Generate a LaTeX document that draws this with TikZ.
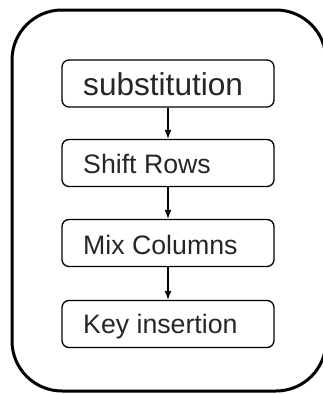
\documentclass[tikz,border=0pt]{standalone}
\usepackage{fontspec}
\setmainfont{Liberation Sans}
\usetikzlibrary{arrows.meta}
\begin{document}
\begin{tikzpicture}[x=1pt,y=-1pt,
  stage/.style={draw, line width=1.3pt, rounded corners=7pt, minimum width=212pt,
    minimum height=47pt, inner sep=0pt},
  lbl/.style={anchor=base west, inner sep=0pt, font=\fontsize{26.7}{30}\selectfont, text=black!85},
  flow/.style={line width=1.2pt, -{Latex[length=9pt,width=7pt]}}]
  \useasboundingbox (0,0) rectangle (323,394);
  % outer frame, right side runs past the page edge
  \begin{scope}
    \clip (0,0) rectangle (323,394);
    \draw[line width=3pt, rounded corners=50pt] (12,10) rectangle (326,391);
  \end{scope}
  % the four stages
  \node[stage] (s1) at (168,83.5) {};
  \node[stage] (s2) at (168,163) {};
  \node[stage] (s3) at (168,243) {};
  \node[stage] (s4) at (168,324) {};
  \node[lbl, font=\fontsize{31.6}{36}\selectfont] (t1) at (83,95) {substitution};
  \node[lbl] (t2) at (83,173) {Shift Rows};
  \node[lbl] (t3) at (83,254) {Mix Columns};
  \node[lbl] (t4) at (83,333) {Key insertion};
  % connectors
  \draw[flow] (s1) -- (s2);
  \draw[flow] (s2) -- (s3);
  \draw[flow] (s3) -- (s4);
\end{tikzpicture}
\end{document}
